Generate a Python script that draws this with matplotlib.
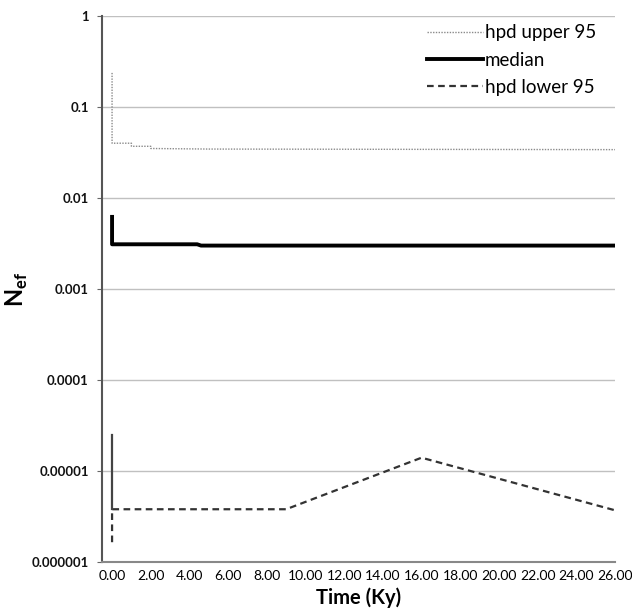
import matplotlib
matplotlib.use("Agg")
import matplotlib.pyplot as plt

plt.rcParams['font.family'] = ['Lato', 'DejaVu Sans']
plt.rcParams['mathtext.fontset'] = 'custom'
plt.rcParams['mathtext.rm'] = 'Lato'
plt.rcParams['mathtext.bf'] = 'Lato:bold'

# hpd upper 95
upper_x = [0, 0, 1.0, 1.0, 2.0, 2.0, 5.0, 26.0]
upper_y = [0.237, 0.040, 0.040, 0.037, 0.037, 0.035, 0.0345, 0.034]

# median
median_x = [0, 0, 4.4, 4.6, 26.0]
median_y = [0.0062, 0.0031, 0.0031, 0.0030, 0.0030]

# hpd lower 95
lower_x = [0, 0, 9.0, 16.0, 26.0]
lower_y = [1.65e-6, 3.8e-6, 3.8e-6, 1.4e-5, 3.7e-6]

# solid spike at time 0 in the lower band
spike_x = [0, 0]
spike_y = [2.5e-5, 3.8e-6]

xticks = list(range(0, 27, 2))
yticks = [1, 0.1, 0.01, 0.001, 0.0001, 0.00001, 0.000001]
ylabels = ['1', '0.1', '0.01', '0.001', '0.0001', '0.00001', '0.000001']

fig = plt.figure(figsize=(6.32, 6.13), dpi=100)
ax = fig.add_axes([0.1614, 0.0832, 0.8117, 0.8907])

ax.plot(upper_x, upper_y, color='#8a8a8a', lw=1.0, ls=(0, (1, 1)), label='hpd upper 95')
ax.plot(median_x, median_y, color='black', lw=2.8, label='median')
ax.plot(lower_x, lower_y, color='#333333', lw=1.6, ls=(0, (3, 2)), label='hpd lower 95')
ax.plot(spike_x, spike_y, color='#444444', lw=1.6)

ax.set_yscale('log')
ax.set_ylim(1e-6, 1)
ax.set_xlim(-0.52, 26.0)
ax.set_yticks(yticks)
ax.set_yticklabels(ylabels, fontweight='bold')
ax.minorticks_off()
ax.set_xticks(xticks)
ax.set_xticklabels([f"{v:.2f}" for v in xticks])
ax.tick_params(axis='y', labelsize=9.5, length=3.6, color='#666666', pad=6, labelcolor='#111111')
ax.tick_params(axis='x', labelsize=10, length=0, pad=6)
ax.yaxis.grid(True, color='#c0c0c0', lw=1)
ax.set_axisbelow(True)

for s in ['top', 'right']:
    ax.spines[s].set_visible(False)
ax.spines['left'].set_color('#555555')
ax.spines['left'].set_linewidth(1.5)
ax.spines['bottom'].set_color('#888888')
ax.spines['bottom'].set_linewidth(1.5)

ax.set_xlabel('Time (Ky)', fontsize=14.5, fontweight='bold', labelpad=4)
ax.set_ylabel(r'N$_{\mathbf{ef}}$', fontsize=17, fontweight='bold')
ax.yaxis.set_label_coords(-0.14, 0.5)

ax.legend(loc='upper right', frameon=False, fontsize=13.5, handlelength=3.0,
          handletextpad=0.1, labelspacing=0.55, borderaxespad=0.05,
          bbox_to_anchor=(0.98, 1.0))

fig.savefig('out.png', dpi=100)
